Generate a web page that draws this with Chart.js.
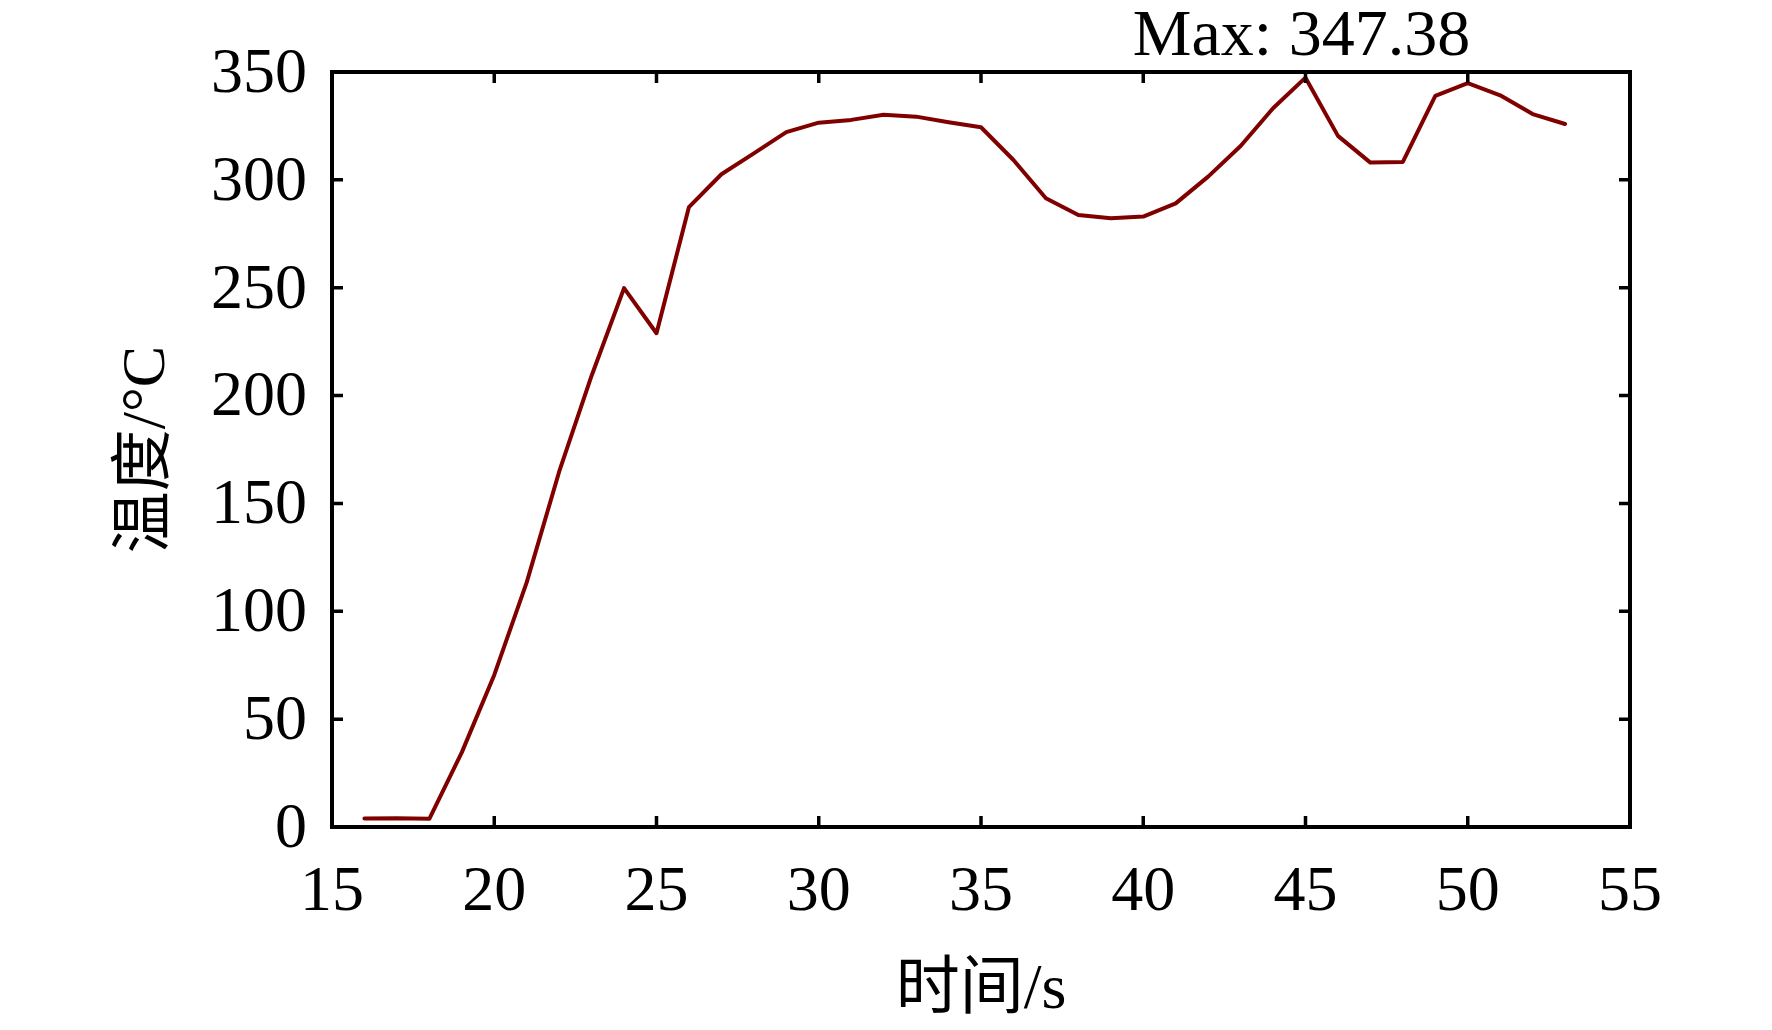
<!DOCTYPE html>
<html>
<head>
<meta charset="utf-8">
<script src="https://cdn.jsdelivr.net/npm/chart.js@4"></script>
<style>
  html, body { margin: 0; padding: 0; background: #ffffff; }
  #wrap { width: 1772px; height: 1030px; }
</style>
</head>
<body>
<div id="wrap"><canvas id="c" width="1772" height="1030"></canvas></div>
<script>
// ---- data ----
const times = [16,17,18,19,20,21,22,23,24,25,26,27,28,29,30,31,32,33,34,35,36,37,38,39,40,41,42,43,44,45,46,47,48,49,50,51,52,53];
const temps = [3.9,4.1,3.8,34.6,70.5,113.4,164.7,209.2,249.8,228.9,287.4,302.6,312.3,322.1,326.5,327.8,330.2,329.3,326.7,324.4,309.2,291.5,283.7,282.2,283.0,289.1,301.5,315.7,333.2,347.38,320.4,308.0,308.3,338.9,344.8,339.2,330.5,325.9];
const xTicks = [15,20,25,30,35,40,45,50,55];
const yTicks = [0,50,100,150,200,250,300,350];
const xTitle = '时间/s';
const yTitle = '温度/°C';
const maxLabelPrefix = 'Max: ';

const FONT = '"Liberation Serif", "Times New Roman", "Noto Sans CJK SC", serif';

const points = times.map((t, i) => ({ x: t, y: temps[i] }));
let maxIdx = 0;
temps.forEach((v, i) => { if (v > temps[maxIdx]) maxIdx = i; });

const frame = {
  id: 'frame',
  afterDraw(chart) {
    const { ctx, chartArea: a, scales } = chart;
    const xs = scales.x, ys = scales.y;
    ctx.save();
    ctx.strokeStyle = '#000';
    ctx.lineWidth = 3.5;
    ctx.lineCap = 'butt';
    const tl = 11;
    xTicks.forEach(v => {
      const px = xs.getPixelForValue(v);
      ctx.beginPath();
      ctx.moveTo(px, a.bottom); ctx.lineTo(px, a.bottom - tl);
      ctx.moveTo(px, a.top); ctx.lineTo(px, a.top + tl);
      ctx.stroke();
    });
    yTicks.forEach(v => {
      const py = ys.getPixelForValue(v);
      ctx.beginPath();
      ctx.moveTo(a.left, py); ctx.lineTo(a.left + tl, py);
      ctx.moveTo(a.right, py); ctx.lineTo(a.right - tl, py);
      ctx.stroke();
    });
    ctx.lineWidth = 4;
    ctx.strokeRect(a.left, a.top, a.right - a.left, a.bottom - a.top);
    // max annotation
    const mx = xs.getPixelForValue(times[maxIdx]);
    ctx.fillStyle = '#000';
    ctx.font = '66px ' + FONT;
    ctx.textAlign = 'center';
    ctx.textBaseline = 'alphabetic';
    ctx.fillText(maxLabelPrefix + temps[maxIdx].toFixed(2), mx - 4, a.top - 17);
    ctx.restore();
  }
};

new Chart(document.getElementById('c'), {
  type: 'line',
  data: {
    datasets: [{
      data: points,
      borderColor: '#800000',
      borderWidth: 4,
      pointRadius: 0,
      tension: 0,
      fill: false,
      borderJoinStyle: 'round',
      borderCapStyle: 'round'
    }]
  },
  options: {
    responsive: false,
    animation: false,
    layout: { padding: { left: 0, right: 142, top: 72, bottom: 0 } },
    plugins: { legend: { display: false }, tooltip: { enabled: false } },
    scales: {
      x: {
        type: 'linear',
        min: 15, max: 55,
        afterBuildTicks: s => { s.ticks = xTicks.map(v => ({ value: v })); },
        afterFit: s => { s.height = 203; },
        grid: { display: false, drawTicks: false },
        border: { display: false },
        ticks: { color: '#000', font: { family: FONT, size: 64 }, padding: 28, maxRotation: 0, autoSkip: false },
        title: { display: true, text: xTitle, color: '#000', font: { family: FONT, size: 64 }, padding: { top: 0, bottom: 0 } }
      },
      y: {
        type: 'linear',
        min: 0, max: 350,
        afterBuildTicks: s => { s.ticks = yTicks.map(v => ({ value: v })); },
        afterFit: s => { s.width = 332; },
        grid: { display: false, drawTicks: false },
        border: { display: false },
        ticks: { color: '#000', font: { family: FONT, size: 64 }, padding: 25, labelOffset: 3, autoSkip: false },
        title: { display: true, text: yTitle, color: '#000', font: { family: FONT, size: 62 }, padding: { top: 111, bottom: 0 } }
      }
    }
  },
  plugins: [frame]
});
</script>
</body>
</html>
